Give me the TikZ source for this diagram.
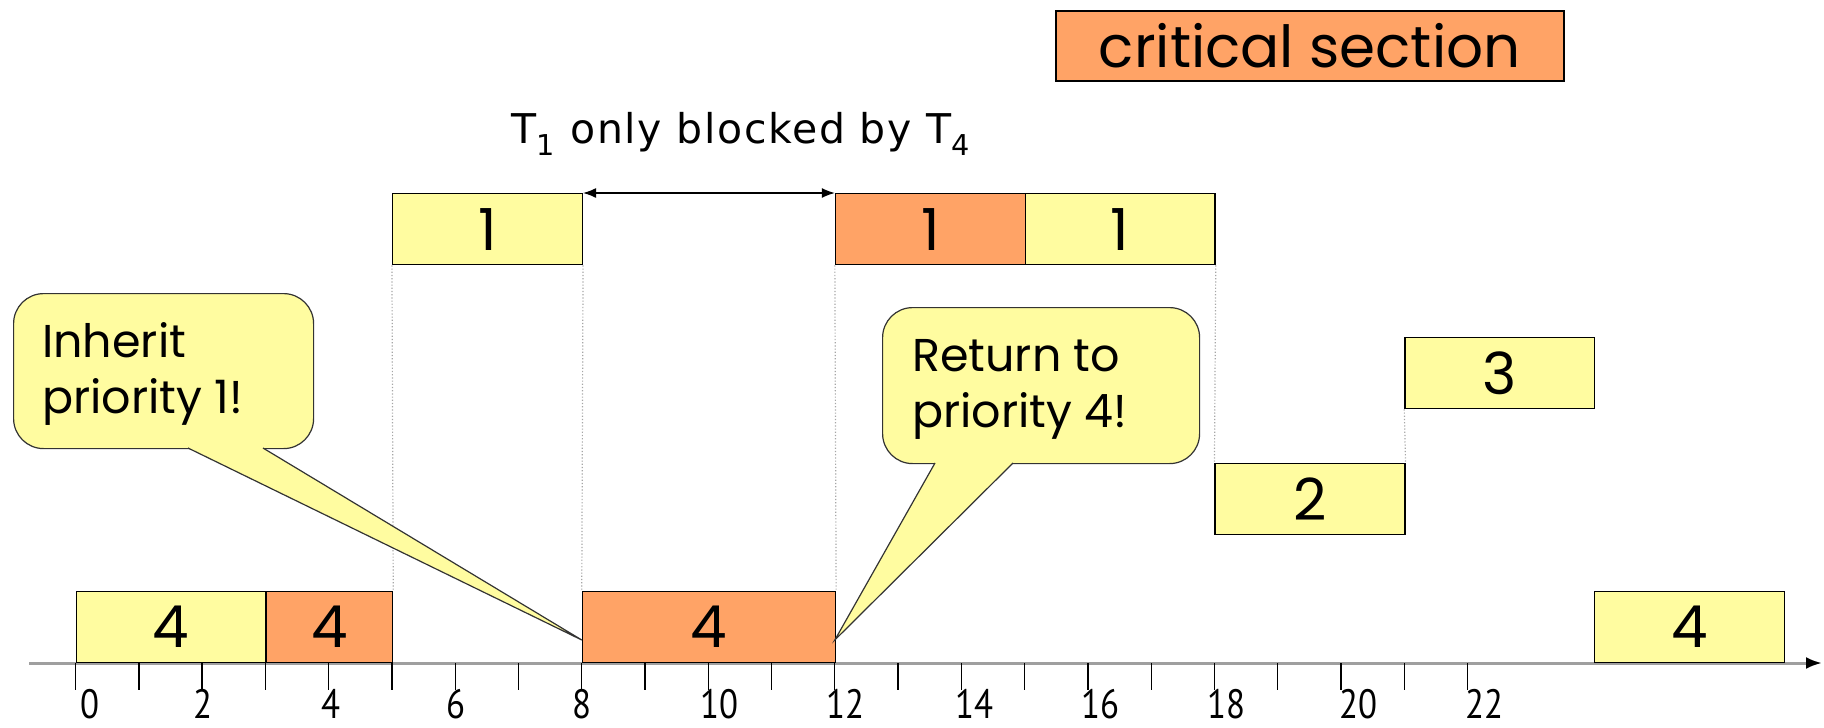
\documentclass[tikz,border=0pt]{standalone}
\usepackage{fontspec}
\setmainfont{Poppins}
\newfontfamily\lblfont[LetterSpace=4]{DejaVu Sans}
\newfontfamily\numfont[FakeStretch=0.85]{PT Sans}
\usetikzlibrary{arrows.meta}
\definecolor{cyel}{HTML}{FFFCA0}
\definecolor{corg}{HTML}{FFA366}
\newcommand{\tx}[1]{75.6+63.27*#1}
\begin{document}
\begin{tikzpicture}[x=1pt,y=-1pt,
  slot/.style={draw=black, line width=1.3pt, inner sep=0pt, minimum height=71pt,
    minimum width={#1*63.27pt}, anchor=north west, font=\fontsize{58}{60}\selectfont},
  ybox/.style={fill=cyel},
  obox/.style={fill=corg},
  callbox/.style={draw=black!80, line width=1.2pt, fill=cyel, rounded corners=30pt,
    anchor=north west, inner sep=0pt},
  calltxt/.style={anchor=base west, inner sep=0pt, font=\fontsize{46}{56}\selectfont},
  lbl/.style={font=\numfont\fontsize{41}{43}\selectfont, inner sep=0pt},
  guide/.style={draw=gray!70, dotted, line width=1.2pt},
  tick/.style={draw=black, line width=1.3pt}]
\useasboundingbox (0,0) rectangle (1824,728);

% legend
\node[draw=black, line width=1.5pt, fill=corg, minimum width=508pt, minimum height=70pt,
  anchor=north west, inner sep=0pt, font=\fontsize{58}{60}\selectfont] (legend) at (1055,10) {critical section};

% axis
\coordinate (axl) at (29,663);
\coordinate (axr) at (1822,663);
\draw[gray!75, line width=3pt, -{Latex[black,length=16pt,width=12pt]}] (axl) -- (axr);
\foreach \i in {0,...,22} {
  \coordinate (ta\i) at ({\tx{\i}},663);
  \coordinate (tb\i) at ({\tx{\i}},690);
  \draw[tick] (ta\i) -- (tb\i);
}
\foreach \i/\d in {0/14,2/1,4/2,6/1,8/0,10/11,12/11,14/13,16/13,18/12,20/17,22/17}
  \node[lbl] (l\i) at ({\tx{\i}+\d},704) {\i};

% T4 row
\node[slot=3, ybox] (r4a) at ({\tx{0}},591) {4};
\node[slot=2, obox] (r4b) at ({\tx{3}},591) {4};
\node[slot=4, obox] (r4c) at ({\tx{8}},591) {4};
\node[slot=3, ybox] (r4d) at ({\tx{24}},591) {4};
% T1 row
\node[slot=3, ybox] (r1a) at ({\tx{5}},193) {1};
\node[slot=3, obox] (r1b) at ({\tx{12}},193) {1};
\node[slot=3, ybox] (r1c) at ({\tx{15}},193) {1};
% T3 row
\node[slot=3, ybox] (r3) at ({\tx{21}},337) {3};
% T2 row
\node[slot=3, ybox] (r2) at ({\tx{18}},463) {2};

% dotted guides
\draw[guide] (r1a.south west) -- (r4b.north east);
\draw[guide] (r1a.south east) -- (r4c.north west);
\draw[guide] (r1b.south west) -- (r4c.north east);
\draw[guide] (r1c.south east) -- (r2.north west);
\draw[guide] (r3.south west) -- (r2.north east);

% blocking arrow
\draw[line width=1.3pt, {Latex[length=13pt,width=10pt]}-{Latex[length=13pt,width=10pt]}] (r1a.north east) -- (r1b.north west);
\node[anchor=base, inner sep=0pt, font=\lblfont\fontsize{41}{44}\selectfont] (blk) at (741,143)
  {T\textsubscript{1} only blocked by T\textsubscript{4}};

% callout 1
\node[callbox, minimum width=300pt, minimum height=155pt] (c1) at (13,293) {};
\coordinate (c1a) at (188,448);
\coordinate (c1b) at (263,448);
\coordinate (tip1) at ({\tx{8}},640);
\fill[cyel] (188,445) -- (c1a) -- (tip1) -- (c1b) -- (263,445) -- cycle;
\draw[black!80, line width=1.2pt, line join=miter] (c1a) -- (tip1) -- (c1b);
\node[calltxt] (c1t1) at (42,357) {Inherit};
\node[calltxt] (c1t2) at (42,413) {priority 1!};

% callout 2
\node[callbox, minimum width=317pt, minimum height=156pt] (c2) at (882,307) {};
\coordinate (c2a) at (935,463);
\coordinate (c2b) at (1013,463);
\coordinate (tip2) at ({\tx{12}},640);
\fill[cyel] (935,460) -- (c2a) -- (tip2) -- (c2b) -- (1013,460) -- cycle;
\draw[black!80, line width=1.2pt, line join=miter] (c2a) -- (tip2) -- (c2b);
\node[calltxt] (c2t1) at (912,371) {Return to};
\node[calltxt] (c2t2) at (912,427) {priority 4!};
\end{tikzpicture}
\end{document}
